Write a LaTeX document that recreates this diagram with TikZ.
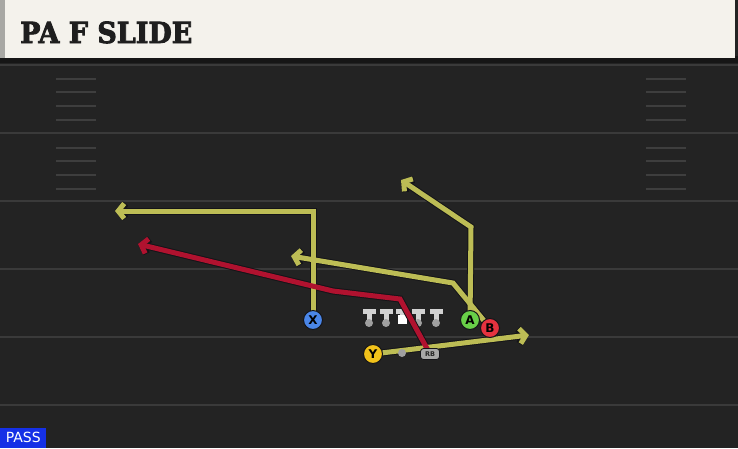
\documentclass[tikz,border=0pt]{standalone}
\usepackage{fontspec}
\usetikzlibrary{arrows.meta}
\newfontfamily\titlefont{DejaVu Serif}
\newfontfamily\lblfont{DejaVu Sans}
\definecolor{bg}{HTML}{232323}
\definecolor{yardline}{HTML}{3A3A3A}
\definecolor{hash}{HTML}{3E3E3E}
\definecolor{cream}{HTML}{F4F2EC}
\definecolor{hdrgray}{HTML}{A8A8A4}
\definecolor{hdrshadow}{HTML}{161616}
\definecolor{titlecol}{HTML}{1E1E1E}
\definecolor{routey}{HTML}{BDBD55}
\definecolor{router}{HTML}{B0122F}
\definecolor{outl}{HTML}{141418}
\definecolor{xblue}{HTML}{4A86E8}
\definecolor{agreen}{HTML}{68CF48}
\definecolor{bred}{HTML}{E5323F}
\definecolor{yyel}{HTML}{F2C21A}
\definecolor{tgray}{HTML}{D2D2D2}
\definecolor{dotgray}{HTML}{A0A0A0}
\definecolor{rbgray}{HTML}{A8A8A8}
\definecolor{passblue}{HTML}{1530E6}
\tikzset{
  player/.style={circle, minimum size=19pt, inner sep=0pt, draw=outl, line width=1pt,
    font=\lblfont\bfseries\fontsize{12}{12}\selectfont, text=black},
  outline/.style={draw=outl, line width=7pt, -{Straight Barb[length=6pt,width=15pt]}},
  yroute/.style={draw=routey, line width=5pt, -{Straight Barb[length=6pt,width=15pt]}},
  rroute/.style={draw=router, line width=5pt, -{Straight Barb[length=6pt,width=15pt]}},
  hashmark/.style={draw=hash, line width=1.8pt},
}
\begin{document}
\begin{tikzpicture}[x=1pt,y=-1pt]
\fill[bg] (0,0) rectangle (738,448);
\useasboundingbox (0,0) rectangle (738,448);
% header
\fill[hdrshadow] (0,56) rectangle (738,63);
\fill[cream] (5,0) rectangle (735,58);
\fill[hdrgray] (0,0) rectangle (5,58);
\node[anchor=base west, inner sep=0pt, text=titlecol, xscale=0.93,
  font=\titlefont\bfseries\addfontfeatures{FakeBold=3}\fontsize{29}{29}\selectfont] (title) at (20,43) {PA F SLIDE};
% yard lines
\foreach \yy in {65,133,201,269,337,405}
  \draw[yardline, line width=2pt] (0,\yy) -- (738,\yy);
% hash marks
\foreach \yy in {79,92,106,120,148,161,175,189} {
  \draw[hashmark] (56,\yy) -- (96,\yy);
  \draw[hashmark] (646,\yy) -- (686,\yy);
}
% linemen
\foreach \xx in {369,386,402,418,436} {
  \fill[tgray] (\xx-6.5,309) rectangle (\xx+6.5,314);
  \fill[tgray] (\xx-2.5,313) rectangle (\xx+2.5,321);
}
\foreach \xx in {369,386,418,436}
  \fill[dotgray] (\xx,323) circle (4pt);
\node[fill=white, minimum width=9pt, minimum height=9pt, inner sep=0pt] (C) at (402,319) {};
% player positions
\coordinate (Xp) at (313,320);
\coordinate (Ap) at (470,320);
\coordinate (Bp) at (490,328);
\coordinate (Yp) at (373,354);
\coordinate (RBp) at (430,354);
% route waypoints
\coordinate (x1) at (313,211);
\coordinate (x2) at (115,211);
\coordinate (a1) at (471,227);
\coordinate (a2) at (401,180);
\coordinate (b1) at (453,283);
\coordinate (b2) at (291,256);
\coordinate (y2) at (529,335);
\coordinate (r1) at (400,299);
\coordinate (r2) at (333,291);
\coordinate (r3) at (138,244);
% outlines
\draw[outline] (Xp) -- (x1) -- (x2);
\draw[outline] (Ap) -- (a1) -- (a2);
\draw[outline] (Bp) -- (b1) -- (b2);
\draw[outline] (Yp) -- (y2);
\draw[outline] (RBp) -- (r1) -- (r2) -- (r3);
% routes
\draw[yroute] (Xp) -- (x1) -- (x2);
\draw[yroute] (Ap) -- (a1) -- (a2);
\draw[yroute] (Bp) -- (b1) -- (b2);
\draw[yroute] (Yp) -- (y2);
\draw[rroute] (RBp) -- (r1) -- (r2) -- (r3);
% players
\node[circle, fill=dotgray, minimum size=8pt, inner sep=0pt] (QB) at (402,353) {};
\node[rounded corners=3pt, fill=rbgray, draw=outl, line width=0.8pt, minimum width=19pt,
  minimum height=11pt, inner sep=0pt, text=black!85,
  font=\lblfont\bfseries\fontsize{6.5}{6.5}\selectfont] (RB) at (RBp) {RB};
\node[player, fill=xblue] (X) at (Xp) {X};
\node[player, fill=agreen] (A) at (Ap) {A};
\node[player, fill=bred] (B) at (Bp) {B};
\node[player, fill=yyel] (Y) at (Yp) {Y};
% PASS label
\node[anchor=south west, fill=passblue, text=white, minimum width=46pt, minimum height=20pt,
  inner sep=0pt, font=\lblfont\fontsize{14}{14}\selectfont] (pass) at (0,448) {PASS};
\end{tikzpicture}
\end{document}
